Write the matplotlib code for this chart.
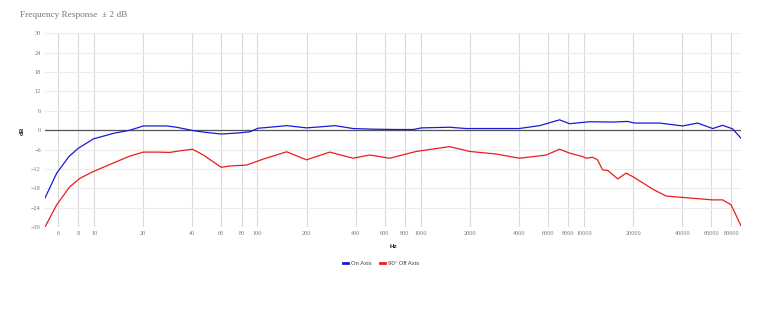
import matplotlib
matplotlib.use('Agg')
import matplotlib.pyplot as plt
from matplotlib.ticker import FixedLocator, NullLocator

# frequency response readings (Hz, dB)
on_freq = [5.0, 5.9, 7.0, 8.0, 9.9, 13.1, 16.6, 20, 27.8, 32, 40, 46.6, 60, 75, 90,
           101, 119, 151, 200, 253, 298, 385, 511, 710, 900, 1010, 1500, 1900, 4000,
           5350, 7080, 8150, 10800, 15000, 18500, 20400, 29000, 40200, 49600, 61400,
           70600, 81300, 91400]
on_db = [-21, -13.3, -8.2, -5.6, -2.7, -1.0, 0, 1.3, 1.3, 0.9, -0.1, -0.6, -1.2, -0.9, -0.5,
         0.6, 0.9, 1.4, 0.7, 1.1, 1.4, 0.5, 0.3, 0.2, 0.2, 0.7, 0.9, 0.5, 0.5,
         1.4, 3.2, 2.0, 2.6, 2.5, 2.7, 2.2, 2.2, 1.3, 2.2, 0.5,
         1.5, 0.4, -2.5]

off_freq = [5.0, 5.9, 7.1, 8.2, 9.9, 13.8, 16.6, 20, 24, 29, 33.6, 40, 46.6, 60, 68, 86,
            108, 151, 200, 277, 385, 487, 646, 857, 941, 1500, 2000, 2900, 4030, 5880,
            7080, 8150, 9830, 10300, 11300, 12100, 13000, 14000, 16100, 18100, 19900,
            26400, 31800, 46300, 61400, 70600, 79500, 91400]
off_db = [-30, -23.1, -17.5, -14.9, -12.8, -9.7, -8.0, -6.8, -6.8, -6.9, -6.4, -5.9, -7.7, -11.5, -11.1, -10.8,
          -9.0, -6.7, -9.2, -6.8, -8.7, -7.7, -8.7, -7.1, -6.6, -5.1, -6.6, -7.4, -8.7, -7.7,
          -5.9, -7.1, -8.2, -8.7, -8.4, -9.2, -12.3, -12.5, -15.1, -13.3, -14.4,
          -18.3, -20.4, -21.1, -21.6, -21.6, -23.1, -29.6]

x_ticks = [6, 8, 10, 20, 40, 60, 80, 100, 200, 400, 600, 800, 1000, 2000, 4000,
           6000, 8000, 10000, 20000, 40000, 60000, 80000]
y_ticks = [-30, -24, -18, -12, -6, 0, 6, 12, 18, 24, 30]

fig = plt.figure(figsize=(7.78, 3.22), dpi=100)
ax = fig.add_axes([45 / 778, 1 - 227 / 322, (741 - 45) / 778, (227 - 33.3) / 322])

ax.set_xscale('log')
ax.set_xlim(5, 91500)
ax.set_ylim(-30, 30)

ax.xaxis.set_major_locator(FixedLocator(x_ticks))
ax.xaxis.set_minor_locator(NullLocator())
ax.set_xticklabels([str(t) for t in x_ticks])
ax.set_yticks(y_ticks)

ax.grid(axis='x', color='#dadada', linewidth=0.8)
ax.grid(axis='y', color='#ececec', linewidth=0.8)
ax.set_axisbelow(True)
ax.axhline(0, color='#555555', linewidth=0.9, zorder=1)

for s in ax.spines.values():
    s.set_visible(False)
ax.tick_params(length=0, labelsize=4.5, labelcolor='#777777', pad=3)
for lab in ax.get_xticklabels() + ax.get_yticklabels():
    lab.set_family('Liberation Serif')

ax.plot(on_freq, on_db, color='#1a1ad8', linewidth=0.9, label='On Axis', zorder=3)
ax.plot(off_freq, off_db, color='#ec1c1c', linewidth=0.9, label='90° Off Axis', zorder=3)

fig.text(20 / 778, 1 - 15 / 322, 'Frequency Response  ± 2 dB', family='Liberation Serif',
         fontsize=6.7, color='#757575', va='center', ha='left')
fig.text(22.5 / 778, 1 - 131 / 322, 'dB', rotation=90, fontsize=4.5, fontweight='bold',
         color='#222222', va='center', ha='center', family='Liberation Sans')
fig.text(393 / 778, 1 - 247 / 322, 'Hz', fontsize=4.5, fontweight='bold',
         color='#222222', va='center', ha='center', family='Liberation Sans')

fig.legend(loc='center', bbox_to_anchor=(381 / 778, 1 - 263 / 322), ncol=2, frameon=False,
           handlelength=0.9, handletextpad=0.5, columnspacing=1.4,
           prop={'family': 'Liberation Sans', 'size': 4.3})
for lh in fig.legends[0].get_lines():
    lh.set_linewidth(2.0)
for t in fig.legends[0].get_texts():
    t.set_color('#444444')

fig.savefig('out.png', dpi=100)
